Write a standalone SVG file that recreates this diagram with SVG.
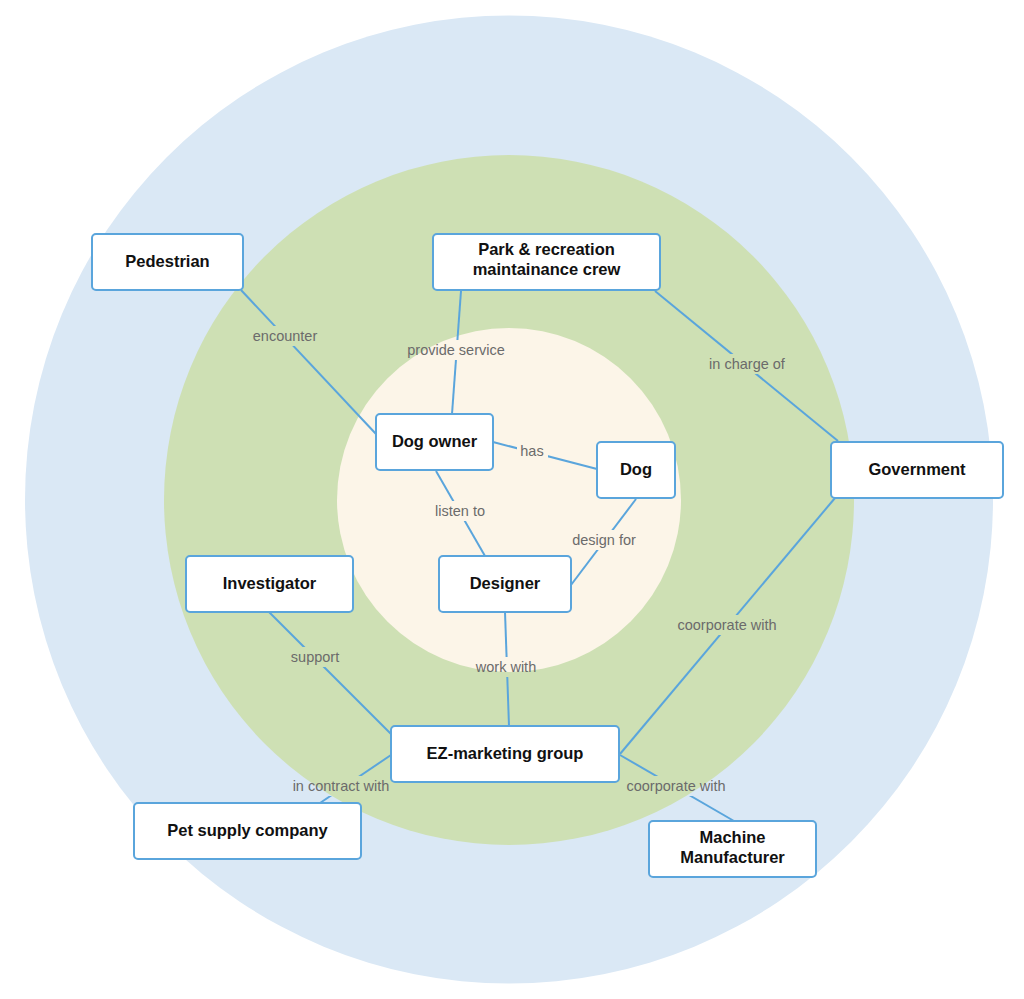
<svg xmlns="http://www.w3.org/2000/svg" width="1024" height="999" viewBox="0 0 1024 999">
<style>
.node rect{fill:#ffffff;stroke:#5aa5dc;stroke-width:2}
.node text{font-family:"Liberation Sans",Arial,sans-serif;font-weight:bold;font-size:16.5px;fill:#111111;text-anchor:middle}
.edges line{stroke:#5aa5dc;stroke-width:2}
.lbl{font-family:"Liberation Sans",Arial,sans-serif;font-size:14.5px;fill:#6b6b6b;text-anchor:middle}
</style>
<defs>
<mask id="gaps" maskUnits="userSpaceOnUse" x="0" y="0" width="1024" height="999">
<rect x="0" y="0" width="1024" height="999" fill="#fff"/>
<g fill="#000">
<rect x="248" y="326" width="74" height="20"/>
<rect x="403" y="340" width="106" height="20"/>
<rect x="705" y="354" width="85" height="20"/>
<rect x="517" y="441" width="31" height="20"/>
<rect x="430" y="501" width="60" height="20"/>
<rect x="568" y="530" width="73" height="20"/>
<rect x="472" y="657" width="69" height="20"/>
<rect x="673" y="615" width="108" height="20"/>
<rect x="287" y="647" width="57" height="20"/>
<rect x="289" y="776" width="105" height="20"/>
<rect x="622" y="776" width="108" height="20"/>
</g>
</mask>
</defs>
<rect width="1024" height="999" fill="#ffffff"/>
<circle cx="509" cy="499.5" r="484" fill="#dae8f5"/>
<circle cx="509" cy="500" r="345" fill="#cee0b4"/>
<circle cx="509" cy="500" r="172" fill="#fcf5e8"/>
<g id="connectors" class="edges">
<g mask="url(#gaps)">
<line x1="241" y1="290" x2="376" y2="434"/>
<line x1="461" y1="291" x2="452" y2="414"/>
<line x1="655" y1="291" x2="838" y2="441"/>
<line x1="493" y1="442" x2="597" y2="469"/>
<line x1="436" y1="471" x2="485" y2="556"/>
<line x1="636" y1="499" x2="571" y2="585"/>
<line x1="505" y1="612" x2="509" y2="726"/>
<line x1="835" y1="498" x2="620" y2="754"/>
<line x1="269" y1="612" x2="391" y2="734"/>
<line x1="391" y1="755" x2="320" y2="803"/>
<line x1="620" y1="755" x2="734" y2="821"/>
</g>
<text class="lbl" x="285" y="341">encounter</text>
<text class="lbl" x="456" y="355">provide service</text>
<text class="lbl" x="747" y="369">in charge of</text>
<text class="lbl" x="532" y="456">has</text>
<text class="lbl" x="460" y="516">listen to</text>
<text class="lbl" x="604" y="545">design for</text>
<text class="lbl" x="506" y="672">work with</text>
<text class="lbl" x="727" y="630">coorporate with</text>
<text class="lbl" x="315" y="662">support</text>
<text class="lbl" x="341" y="791">in contract with</text>
<text class="lbl" x="676" y="791">coorporate with</text>
</g>
<g id="pedestrian" class="node"><rect x="92" y="234" width="151" height="56" rx="4"/><text x="167.5" y="267">Pedestrian</text></g>
<g id="park" class="node"><rect x="433" y="234" width="227" height="56" rx="4"/><text x="546.5" y="255">Park &amp; recreation</text><text x="546.5" y="275">maintainance crew</text></g>
<g id="dog-owner" class="node"><rect x="376" y="414" width="117" height="56" rx="4"/><text x="434.5" y="447">Dog owner</text></g>
<g id="dog" class="node"><rect x="597" y="442" width="78" height="56" rx="4"/><text x="636" y="475">Dog</text></g>
<g id="government" class="node"><rect x="831" y="442" width="172" height="56" rx="4"/><text x="917" y="475">Government</text></g>
<g id="investigator" class="node"><rect x="186" y="556" width="167" height="56" rx="4"/><text x="269.5" y="589">Investigator</text></g>
<g id="designer" class="node"><rect x="439" y="556" width="132" height="56" rx="4"/><text x="505" y="589">Designer</text></g>
<g id="ez-marketing" class="node"><rect x="391" y="726" width="228" height="56" rx="4"/><text x="505" y="759">EZ-marketing group</text></g>
<g id="pet-supply" class="node"><rect x="134" y="803" width="227" height="56" rx="4"/><text x="247.5" y="836">Pet supply company</text></g>
<g id="machine" class="node"><rect x="649" y="821" width="167" height="56" rx="4"/><text x="732.5" y="843">Machine</text><text x="732.5" y="863">Manufacturer</text></g>
</svg>
